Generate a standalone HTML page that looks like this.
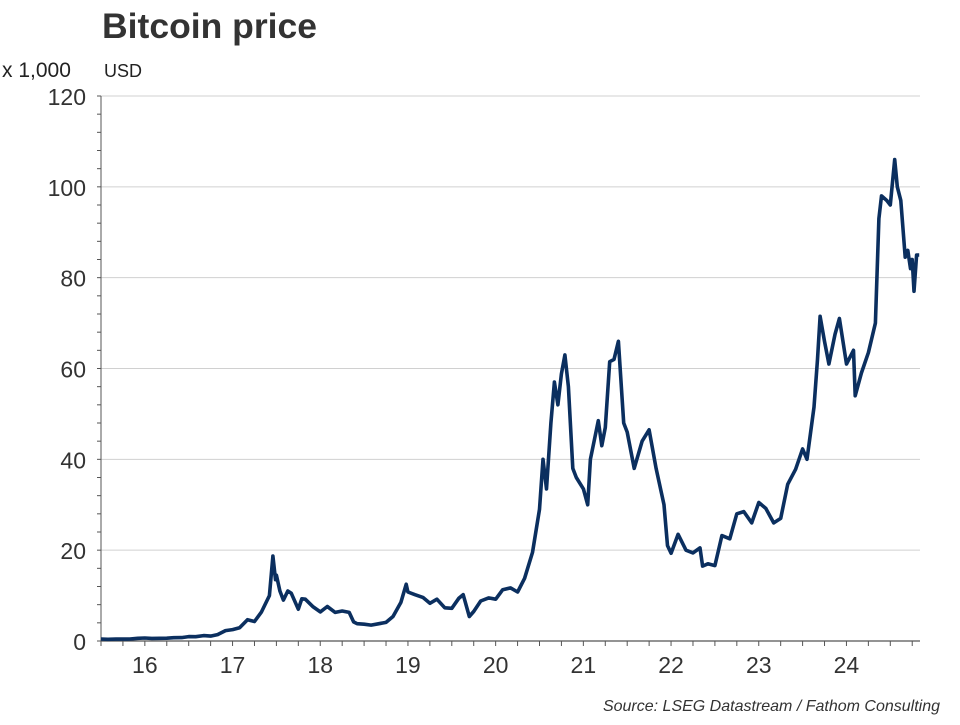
<!DOCTYPE html>
<html><head><meta charset="utf-8"><style>
body{margin:0;background:#fff;}
svg text{font-family:"Liberation Sans",Arial,sans-serif;}
</style></head><body>
<svg id="chart" width="960" height="720" viewBox="0 0 960 720">
<text x="102" y="38" font-size="35.5" font-weight="bold" fill="#333">Bitcoin price</text>
<text x="2" y="77" font-size="21" fill="#222">x 1,000</text>
<text x="104" y="77" font-size="18" fill="#222">USD</text>
<g id="grid"></g><g id="axes"></g>
<path id="line" fill="none" stroke="#0b2f5f" stroke-width="3.6" stroke-linejoin="round"/>
<text x="940" y="711" font-size="16" font-style="italic" fill="#333" text-anchor="end">Source: LSEG Datastream / Fathom Consulting</text>
</svg>
<script>
const yTicks=[0,20,40,60,80,100,120];
const xLabels=["16","17","18","19","20","21","22","23","24"];
const dates=[2016.0,2016.08,2016.17,2016.25,2016.33,2016.42,2016.5,2016.58,2016.67,2016.75,2016.83,2016.92,
2017.0,2017.08,2017.17,2017.25,2017.33,2017.42,2017.5,2017.58,2017.67,2017.75,2017.83,2017.92,2017.96,2017.99,
2018.0,2018.04,2018.08,2018.13,2018.17,2018.25,2018.29,2018.33,2018.42,2018.5,2018.58,2018.67,2018.75,2018.83,2018.88,2018.92,
2019.0,2019.08,2019.17,2019.25,2019.33,2019.42,2019.48,2019.5,2019.58,2019.67,2019.75,2019.83,2019.92,
2020.0,2020.08,2020.13,2020.2,2020.25,2020.33,2020.42,2020.5,2020.58,2020.67,2020.75,2020.83,2020.92,
2021.0,2021.04,2021.08,2021.13,2021.17,2021.21,2021.25,2021.29,2021.33,2021.38,2021.42,2021.5,2021.55,2021.58,2021.67,2021.71,2021.75,2021.8,2021.85,2021.9,2021.96,
2022.0,2022.08,2022.17,2022.25,2022.33,2022.42,2022.46,2022.5,2022.58,2022.67,2022.75,2022.83,2022.86,2022.92,
2023.0,2023.08,2023.17,2023.25,2023.33,2023.42,2023.5,2023.58,2023.67,2023.75,2023.83,2023.92,
2024.0,2024.05,2024.13,2024.17,2024.2,2024.25,2024.3,2024.37,2024.42,2024.5,2024.58,2024.6,2024.67,2024.75,2024.83,2024.87,2024.9,2024.96,
2025.0,2025.05,2025.08,2025.12,2025.17,2025.2,2025.23,2025.25,2025.27,2025.3,2025.33];
const prices=[0.43,0.38,0.42,0.42,0.45,0.6,0.67,0.57,0.6,0.61,0.72,0.75,
0.97,0.95,1.19,1.08,1.4,2.3,2.5,2.9,4.7,4.3,6.4,10.0,18.7,13.5,
14.5,11.0,9.0,11.0,10.5,7.0,9.3,9.2,7.5,6.4,7.6,6.3,6.6,6.3,4.2,3.8,
3.7,3.5,3.8,4.1,5.4,8.5,12.5,10.8,10.2,9.6,8.3,9.2,7.3,
7.2,9.4,10.2,5.4,6.5,8.8,9.5,9.2,11.3,11.7,10.8,13.8,19.5,
29.0,40.0,33.5,48.0,57.0,52.0,58.8,63.0,56.0,38.0,36.0,33.5,30.0,40.0,48.5,43.0,47.0,61.5,62.0,66.0,48.0,
46.0,38.0,44.0,46.5,38.0,30.0,21.0,19.3,23.5,20.0,19.4,20.5,16.5,17.0,
16.6,23.2,22.5,28.0,28.5,26.0,30.5,29.2,26.0,27.0,34.5,37.8,
42.3,40.0,51.5,62.0,71.5,66.0,61.0,67.5,71.0,61.0,64.0,54.0,59.0,63.5,70.0,93.0,98.0,97.0,
96.0,106.0,100.0,97.0,84.5,86.0,82.0,84.0,77.0,85.0,85.0];
const X0=101,X1=920,Y0=641,YT=96;
const yScale=v=>Y0-(v/120)*(Y0-YT);
const xScale=d=>X0+(d-2016)*87.7;
const NS="http://www.w3.org/2000/svg";
const grid=document.getElementById('grid'),axes=document.getElementById('axes');
function mk(t,a,p){const e=document.createElementNS(NS,t);for(const k in a)e.setAttribute(k,a[k]);p.appendChild(e);return e;}
yTicks.forEach(v=>{
 const y=yScale(v);
 if(v>0){const g=mk('line',{x1:X0,x2:X1,y1:y,y2:y,stroke:'#d0d0d0','stroke-width':1},grid);
 
 }
 const t=mk('text',{x:86,y:y+9,'font-size':23,'text-anchor':'end',fill:'#333'},axes);
 t.textContent=v;
 
 
});
for(let v=0;v<=120;v+=4){const y=yScale(v);mk('line',{x1:X0-4,x2:X0,y1:y,y2:y,stroke:'#555','stroke-width':1},axes);}
mk('line',{x1:X0,x2:X0,y1:YT,y2:Y0,stroke:'#555','stroke-width':1},axes);
mk('line',{x1:X0,x2:X1,y1:Y0,y2:Y0,stroke:'#555','stroke-width':1.2},axes);
for(let q=0;q<=37;q++){const x=X0+q*87.7/4;if(x>X1)break;mk('line',{x1:x,x2:x,y1:Y0,y2:Y0+5,stroke:'#555','stroke-width':1},axes);}
xLabels.forEach((l,i)=>{
 const t=mk('text',{x:xScale(2016+i+0.5),y:673,'font-size':23,'text-anchor':'middle',fill:'#333'},axes);
 t.textContent=l;
 
 
});
document.getElementById('line').setAttribute('d',dates.map((d,i)=>(i?'L':'M')+xScale(d).toFixed(1)+','+yScale(prices[i]).toFixed(1)).join(''));
</script>
</body></html>
